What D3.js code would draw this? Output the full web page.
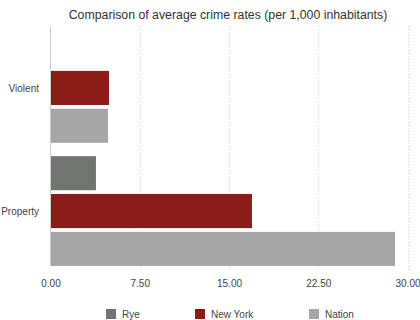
<!DOCTYPE html>
<html><head><meta charset="utf-8">
<script src="https://cdn.jsdelivr.net/npm/d3@7"></script>
<style>
html,body{margin:0;padding:0;background:#fff;}
svg{display:block;font-family:"Liberation Sans",Arial,sans-serif;}
</style></head>
<body><svg id="c" width="420" height="320"></svg>
<script>
const categories = ["Violent", "Property"];
const seriesNames = ["Rye", "New York", "Nation"];
const rye = [null, 3.82];
const newYork = [4.92, 16.93];
const nation = [4.83, 28.95];
const tickValues = [0, 7.5, 15, 22.5, 30];
const colors = ["#717471", "#8b1c17", "#a6a6a6"];

const seriesValues = [rye, newYork, nation];
const svg = d3.select("#c");
const x = d3.scaleLinear().domain([0, 30]).range([50.5, 407.5]);
const y0 = d3.scaleBand().domain(categories).range([26, 273]).paddingInner(0.108).paddingOuter(0.057);
const y1 = d3.scaleBand().domain(seriesNames).range([0, y0.bandwidth()]).paddingInner(0.1);

// grid
svg.append("g").selectAll("line").data(tickValues.slice(1)).join("line")
  .attr("x1", d => Math.round(x(d)) + 0.5).attr("x2", d => Math.round(x(d)) + 0.5)
  .attr("y1", 26).attr("y2", 272)
  .attr("stroke", "#cfcfcf").attr("stroke-dasharray", "1,2");

// bars
const rows = [];
categories.forEach((c, i) => seriesNames.forEach((s, j) => {
  if (seriesValues[j][i] != null) rows.push({c, s, v: seriesValues[j][i], j});
}));
svg.append("g").selectAll("rect").data(rows).join("rect")
  .attr("x", x(0))
  .attr("y", d => y0(d.c) + y1(d.s))
  .attr("width", d => x(d.v) - x(0))
  .attr("height", y1.bandwidth())
  .attr("fill", d => colors[d.j]);

// zero axis line
svg.append("line").attr("x1", 50.5).attr("x2", 50.5).attr("y1", 26).attr("y2", 265)
  .attr("stroke", "#cccccc").attr("stroke-width", 1);

// x axis labels
const xa = svg.append("g").attr("transform", "translate(0,270)")
  .call(d3.axisBottom(x).tickValues(tickValues).tickFormat(d3.format(".2f")).tickSize(0).tickPadding(10));
xa.select(".domain").remove();
xa.selectAll("text").attr("font-size", 10).attr("fill", "#444").attr("font-family", "Liberation Sans, Arial, sans-serif");

// y axis labels
const ya = svg.append("g").attr("transform", "translate(39,1)")
  .call(d3.axisLeft(y0).tickSize(0).tickPadding(0));
ya.select(".domain").remove();
ya.selectAll("text").attr("font-size", 10).attr("fill", "#444").attr("font-family", "Liberation Sans, Arial, sans-serif");

// title
svg.append("text").attr("x", 228).attr("y", 19).attr("text-anchor", "middle")
  .attr("font-size", 12.3).attr("fill", "#333")
  .text("Comparison of average crime rates (per 1,000 inhabitants)");

// legend
const legX = [106, 195, 309];
const lg = svg.append("g").selectAll("g").data(seriesNames).join("g")
  .attr("transform", (d, i) => `translate(${legX[i]},309)`);
lg.append("rect").attr("width", 10).attr("height", 10).attr("fill", (d, i) => colors[i]);
lg.append("text").attr("x", 16).attr("y", 5).attr("dy", "0.35em")
  .attr("font-size", 10).attr("fill", "#444").text(d => d);
</script></body></html>
